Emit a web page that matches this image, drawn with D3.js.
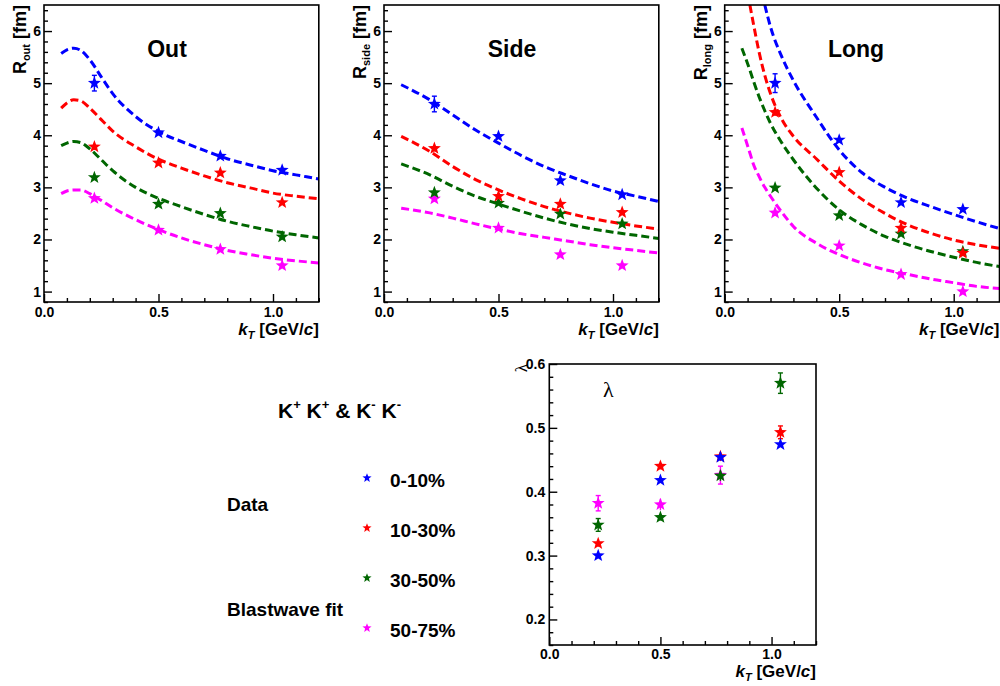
<!DOCTYPE html>
<html>
<head>
<meta charset="utf-8">
<script src="https://cdn.jsdelivr.net/npm/d3@7"></script>
<style>
  body { margin: 0; background: #fff; }
  svg { display: block; font-family: "Liberation Sans", Arial, Helvetica, sans-serif; }
</style>
</head>
<body>
<svg id="chart" width="1000" height="686"></svg>
<script>
// ---- data ---------------------------------------------------------------
const kT = [0.22, 0.5, 0.77, 1.04];
const centralities = ["0-10%", "10-30%", "30-50%", "50-75%"];
const seriesColors = ["#0000ff", "#ff0000", "#006600", "#ff00ff"];
const drawOrder = [3, 2, 1, 0];

const xTicks = [0.0, 0.5, 1.0];
const rTicks = [1, 2, 3, 4, 5, 6];
const lambdaTicks = [0.2, 0.3, 0.4, 0.5, 0.6];

// HBT radii [fm], one row per centrality class
const rOut = [
  [5.00, 4.05, 3.60, 3.33],
  [3.78, 3.47, 3.28, 2.71],
  [3.19, 2.68, 2.50, 2.05],
  [2.79, 2.18, 1.81, 1.50]
];
const rOutErr = [
  [0.15, 0.05, 0.04, 0.04],
  [0.06, 0.04, 0.04, 0.04],
  [0.05, 0.04, 0.04, 0.04],
  [0.05, 0.04, 0.04, 0.04]
];
const rSide = [
  [4.60, 3.98, 3.13, 2.86],
  [3.75, 2.83, 2.68, 2.52],
  [2.90, 2.70, 2.49, 2.30],
  [2.78, 2.22, 1.71, 1.50]
];
const rSideErr = [
  [0.15, 0.05, 0.04, 0.04],
  [0.06, 0.04, 0.04, 0.04],
  [0.05, 0.04, 0.04, 0.04],
  [0.05, 0.04, 0.04, 0.04]
];
const rLong = [
  [5.00, 3.91, 2.71, 2.58],
  [4.44, 3.29, 2.22, 1.74],
  [2.99, 2.46, 2.11, 1.77],
  [2.51, 1.88, 1.33, 1.00]
];
const rLongErr = [
  [0.18, 0.05, 0.04, 0.04],
  [0.07, 0.04, 0.04, 0.04],
  [0.05, 0.04, 0.04, 0.04],
  [0.06, 0.04, 0.04, 0.04]
];
// correlation strength
const lambdaVals = [
  [0.300, 0.418, 0.454, 0.474],
  [0.319, 0.440, 0.455, 0.493],
  [0.348, 0.360, 0.425, 0.570],
  [0.382, 0.380, 0.426, null]
];
const lambdaErr = [
  [0.003, 0.004, 0.005, 0.004],
  [0.005, 0.005, 0.007, 0.010],
  [0.010, 0.005, 0.008, 0.016],
  [0.012, 0.009, 0.014, 0]
];

// Blast-wave model curves
const outFitKT = [0.075, 0.1, 0.13, 0.16, 0.2, 0.25, 0.3, 0.4, 0.5, 0.6, 0.7, 0.8, 0.9, 1.0, 1.1, 1.2];
const outFit = [
  [5.57, 5.64, 5.67, 5.63, 5.45, 5.12, 4.80, 4.36, 4.07, 3.88, 3.71, 3.55, 3.43, 3.32, 3.24, 3.16],
  [4.52, 4.62, 4.68, 4.66, 4.52, 4.30, 4.08, 3.78, 3.54, 3.37, 3.22, 3.09, 2.99, 2.89, 2.83, 2.78],
  [3.80, 3.85, 3.88, 3.86, 3.74, 3.53, 3.32, 3.00, 2.79, 2.63, 2.48, 2.35, 2.25, 2.16, 2.09, 2.03],
  [2.88, 2.93, 2.95, 2.95, 2.88, 2.75, 2.61, 2.38, 2.19, 2.03, 1.90, 1.79, 1.71, 1.64, 1.59, 1.55]
];
const sideFitKT = [0.075, 0.2, 0.3, 0.4, 0.5, 0.6, 0.7, 0.8, 0.9, 1.0, 1.1, 1.2];
const sideFit = [
  [4.97, 4.68, 4.39, 4.10, 3.85, 3.61, 3.40, 3.23, 3.07, 2.93, 2.83, 2.73],
  [3.98, 3.69, 3.40, 3.15, 2.95, 2.78, 2.63, 2.51, 2.41, 2.33, 2.26, 2.20],
  [3.45, 3.24, 3.02, 2.83, 2.68, 2.54, 2.41, 2.30, 2.21, 2.14, 2.08, 2.02],
  [2.60, 2.51, 2.41, 2.30, 2.20, 2.11, 2.04, 1.97, 1.90, 1.84, 1.79, 1.74]
];
const longFitKT = [0.075, 0.11, 0.125, 0.15, 0.175, 0.2, 0.25, 0.3, 0.4, 0.5, 0.6, 0.7, 0.8, 0.9, 1.0, 1.1, 1.2];
const longFit = [
  [null, null, null, null, 6.50, 6.08, 5.50, 5.05, 4.35, 3.72, 3.28, 3.00, 2.79, 2.63, 2.48, 2.34, 2.21],
  [null, 6.50, 6.15, 5.60, 5.15, 4.80, 4.30, 3.98, 3.55, 3.12, 2.77, 2.50, 2.28, 2.12, 1.99, 1.90, 1.83],
  [5.67, 5.25, 5.05, 4.74, 4.47, 4.23, 3.85, 3.53, 2.99, 2.57, 2.28, 2.06, 1.90, 1.77, 1.66, 1.56, 1.48],
  [4.14, 3.66, 3.45, 3.21, 3.00, 2.83, 2.52, 2.25, 1.93, 1.71, 1.55, 1.42, 1.33, 1.24, 1.17, 1.10, 1.06]
];

// ---- layout -------------------------------------------------------------
const svg = d3.select("#chart");
const FONT = "'Liberation Sans', Arial, Helvetica, sans-serif";
const SERIF = "'Liberation Serif', 'Times New Roman', serif";

const radiusPanels = [
  { sub: "out",  title: "Out",  titleX: 167, left: 44,    vals: rOut,  errs: rOutErr,  fitX: outFitKT,  fitY: outFit },
  { sub: "side", title: "Side", titleX: 512, left: 384,   vals: rSide, errs: rSideErr, fitX: sideFitKT, fitY: sideFit },
  { sub: "long", title: "Long", titleX: 856, left: 724.7, vals: rLong, errs: rLongErr, fitX: longFitKT, fitY: longFit }
];
const panelWidth = 274.8;
const panelTop = 5, panelBottom = 302;

// five-pointed filled star; "size" is the outer radius in px
const starType = {
  draw(context, r) {
    const inner = r * 0.42;
    for (let i = 0; i < 10; i++) {
      const a = -Math.PI / 2 + i * Math.PI / 5;
      const rad = i % 2 ? inner : r;
      const px = rad * Math.cos(a), py = rad * Math.sin(a);
      if (i === 0) context.moveTo(px, py); else context.lineTo(px, py);
    }
    context.closePath();
  }
};
const star = d3.symbol().type(starType);

function drawFrame(g, x, y, opts) {
  const [x0, x1] = x.range();
  const [y0, y1] = y.range();   // y0 bottom, y1 top

  // minor ticks
  const xMinor = d3.range(0, 1.2001, 0.1).filter(v => Math.abs(v * 2 - Math.round(v * 2)) > 1e-6);
  g.append("g").attr("transform", `translate(0,${y0})`)
    .call(d3.axisBottom(x).tickValues(xMinor).tickSize(-4).tickFormat(""))
    .call(a => a.select(".domain").remove());
  g.append("g").attr("transform", `translate(${x0},0)`)
    .call(d3.axisLeft(y).tickValues(opts.yMinor).tickSize(-4).tickFormat(""))
    .call(a => a.select(".domain").remove());

  // major ticks with labels
  const xa = g.append("g").attr("transform", `translate(0,${y0})`)
    .call(d3.axisBottom(x).tickValues(xTicks).tickSize(-8).tickPadding(opts.xPad).tickFormat(d3.format(".1f")));
  const ya = g.append("g").attr("transform", `translate(${x0},0)`)
    .call(d3.axisLeft(y).tickValues(opts.yTicks).tickSize(-8).tickPadding(opts.yPad).tickFormat(opts.yFormat));
  [xa, ya].forEach(a => {
    a.select(".domain").remove();
    a.attr("font-family", FONT).attr("font-size", 14).attr("font-weight", "bold");
    a.selectAll("text").attr("fill", "#000");
  });
  g.selectAll(".tick line").attr("stroke", "#000").attr("stroke-width", 1.4);

  g.append("rect")
    .attr("x", x0).attr("y", y1)
    .attr("width", x1 - x0).attr("height", y0 - y1)
    .attr("fill", "none").attr("stroke", "#000").attr("stroke-width", 1.6);

  // kT axis title
  const t = g.append("text")
    .attr("x", x1).attr("y", opts.xTitleY)
    .attr("text-anchor", "end")
    .attr("font-family", FONT).attr("font-size", 17).attr("font-weight", "bold");
  t.append("tspan").attr("font-style", "italic").text("k");
  t.append("tspan").attr("font-style", "italic").attr("font-size", 11).attr("dy", 4).text("T");
  t.append("tspan").attr("dy", -4).text(" [GeV/");
  t.append("tspan").attr("font-style", "italic").text("c");
  t.append("tspan").text("]");
}

function drawPoints(g, x, y, vals, errs, radius) {
  drawOrder.forEach(s => {
    const pts = kT.map((k, i) => ({ k, v: vals[s][i], e: errs[s][i] })).filter(d => d.v != null);
    const sg = g.append("g");
    sg.selectAll("line.err").data(pts).join("line")
      .attr("x1", d => x(d.k)).attr("x2", d => x(d.k))
      .attr("y1", d => y(d.v - d.e)).attr("y2", d => y(d.v + d.e))
      .attr("stroke", seriesColors[s]).attr("stroke-width", 1.4);
    sg.selectAll("g.cap").data(pts.filter(d => Math.abs(y(d.v - d.e) - y(d.v + d.e)) > 12)).join("g")
      .each(function (d) {
        [d.v - d.e, d.v + d.e].forEach(v => {
          d3.select(this).append("line")
            .attr("x1", x(d.k) - 2.5).attr("x2", x(d.k) + 2.5)
            .attr("y1", y(v)).attr("y2", y(v))
            .attr("stroke", seriesColors[s]).attr("stroke-width", 1.4);
        });
      });
    sg.selectAll("path.star").data(pts).join("path")
      .attr("transform", d => `translate(${x(d.k)},${y(d.v)})`)
      .attr("d", star.size(radius)())
      .attr("fill", seriesColors[s]);
  });
}

// ---- R_out / R_side / R_long panels --------------------------------------
radiusPanels.forEach((p, pi) => {
  const g = svg.append("g");
  const x = d3.scaleLinear().domain([0, 1.2]).range([p.left, p.left + panelWidth]);
  const y = d3.scaleLinear().domain([0.8, 6.5]).range([panelBottom, panelTop]);

  const clipId = "clip" + pi;
  svg.append("clipPath").attr("id", clipId).append("rect")
    .attr("x", p.left).attr("y", panelTop)
    .attr("width", panelWidth).attr("height", panelBottom - panelTop);

  // model curves
  const line = d3.line()
    .defined(d => d[1] != null)
    .x(d => x(d[0])).y(d => y(d[1]))
    .curve(d3.curveMonotoneX);
  const curves = g.append("g").attr("clip-path", `url(#${clipId})`);
  drawOrder.forEach(s => {
    curves.append("path")
      .attr("d", line(p.fitX.map((k, i) => [k, p.fitY[s][i]])))
      .attr("fill", "none")
      .attr("stroke", seriesColors[s])
      .attr("stroke-width", 3)
      .attr("stroke-dasharray", "8,4");
  });

  drawFrame(g, x, y, {
    yTicks: rTicks,
    yMinor: d3.range(0.8, 6.5001, 0.2).map(v => +v.toFixed(2)).filter(v => Math.abs(v - Math.round(v)) > 1e-6),
    yFormat: d3.format("d"),
    xPad: 5, yPad: 3, xTitleY: 335
  });

  drawPoints(g, x, y, p.vals, p.errs, 6.8);

  // panel title
  g.append("text")
    .attr("x", p.titleX).attr("y", 57)
    .attr("text-anchor", "middle")
    .attr("font-family", FONT).attr("font-size", 23).attr("font-weight", "bold")
    .text(p.title);

  // R axis title
  const yt = g.append("text")
    .attr("transform", `translate(${p.left - 18},${panelTop}) rotate(-90)`)
    .attr("text-anchor", "end")
    .attr("font-family", FONT).attr("font-size", 18).attr("font-weight", "bold");
  yt.append("tspan").text("R");
  yt.append("tspan").attr("font-size", 11).attr("dy", 4).text(p.sub);
  yt.append("tspan").attr("dy", -4).text(" [fm]");
});

// ---- lambda panel --------------------------------------------------------
{
  const g = svg.append("g");
  const x = d3.scaleLinear().domain([0, 1.2]).range([549.3, 816]);
  const y = d3.scaleLinear().domain([0.16, 0.6]).range([645, 364]);

  drawFrame(g, x, y, {
    yTicks: lambdaTicks,
    yMinor: d3.range(0.16, 0.6001, 0.02).map(v => +v.toFixed(2)).filter(v => Math.abs(v * 10 - Math.round(v * 10)) > 1e-6),
    yFormat: d3.format(".1f"),
    xPad: 4, yPad: 4, xTitleY: 677
  });

  drawPoints(g, x, y, lambdaVals, lambdaErr, 6.8);

  g.append("text")
    .attr("x", 603).attr("y", 397)
    .attr("font-family", SERIF).attr("font-size", 22)
    .text("λ");
  g.append("text")
    .attr("transform", "translate(527,364) rotate(-90)")
    .attr("text-anchor", "end")
    .attr("font-family", SERIF).attr("font-size", 17)
    .text("λ");
}

// ---- legend --------------------------------------------------------------
{
  const g = svg.append("g").attr("font-family", FONT).attr("font-weight", "bold");
  const head = g.append("text").attr("x", 278).attr("y", 418).attr("font-size", 21);
  [["K", "+"], [" K", "+"], [" & K", "-"], [" K", "-"]].forEach(([base, sup], i) => {
    head.append("tspan").attr("dy", i === 0 ? 0 : 9).text(base);
    head.append("tspan").attr("font-size", 13).attr("dy", -9).text(sup);
  });

  const legendY = [478, 528, 578, 628];
  centralities.forEach((c, i) => {
    g.append("path")
      .attr("transform", `translate(367,${legendY[i]})`)
      .attr("d", star.size(4.8)())
      .attr("fill", seriesColors[i]);
    g.append("text")
      .attr("x", 390).attr("y", legendY[i] + 9)
      .attr("font-size", 19)
      .text(c);
  });

  g.append("text").attr("x", 227).attr("y", 511).attr("font-size", 19).text("Data");
  g.append("text").attr("x", 227).attr("y", 616).attr("font-size", 19).text("Blastwave fit");
}
</script>
</body>
</html>
